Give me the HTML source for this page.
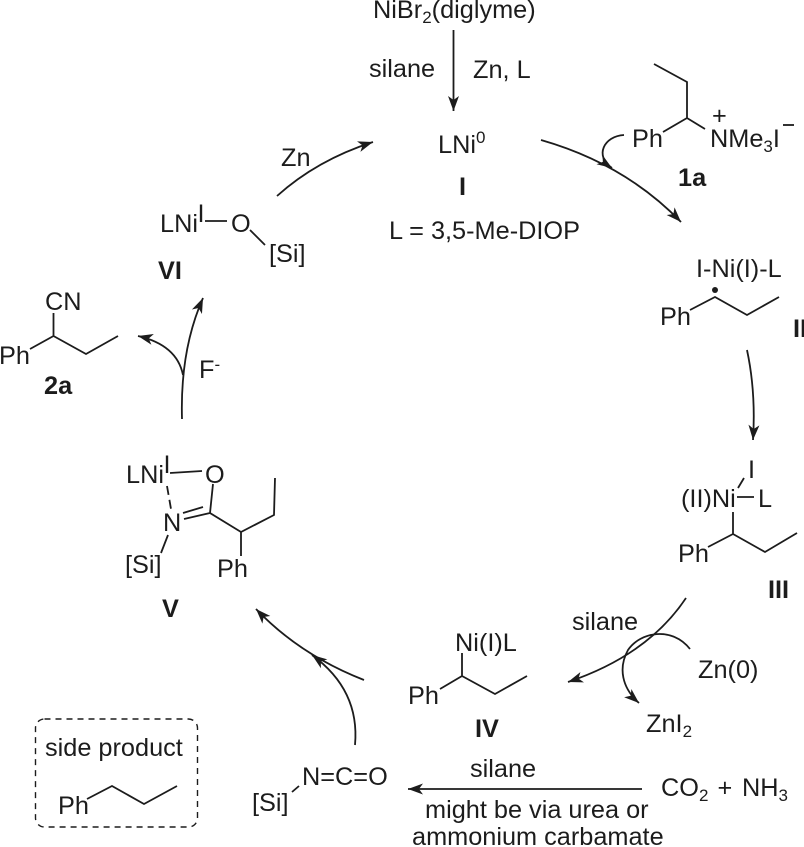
<!DOCTYPE html>
<html>
<head>
<meta charset="utf-8">
<style>
html,body{margin:0;padding:0;background:#fff;width:804px;height:847px;overflow:hidden}
svg{display:block}
text{font-family:"Liberation Sans",sans-serif;font-size:25.3px;fill:#1c1c1c}
.b{font-weight:bold}
.l{fill:none;stroke:#1c1c1c;stroke-width:1.8}
.a{fill:none;stroke:#1c1c1c;stroke-width:1.8;marker-end:url(#h)}
</style>
</head>
<body>
<svg width="804" height="847" viewBox="0 0 804 847" xmlns="http://www.w3.org/2000/svg">
<defs>
<marker id="h" markerUnits="userSpaceOnUse" markerWidth="16" markerHeight="12" viewBox="0 0 16 12" refX="15" refY="6" orient="auto">
<path d="M15,6 L0,0.5 L4,6 L0,11.5 Z" fill="#1c1c1c"/>
</marker>
</defs>

<!-- top -->
<text x="373" y="18">NiBr<tspan font-size="17" dy="5">2</tspan><tspan dy="-5">(diglyme)</tspan></text>
<path class="a" d="M453.5,30 L453.5,111"/>
<text x="369" y="77">silane</text>
<text x="473" y="78">Zn, L</text>
<text x="438" y="153">LNi<tspan font-size="17" dy="-10">0</tspan></text>
<text class="b" x="459" y="195">I</text>
<text x="389" y="239">L = 3,5-Me-DIOP</text>

<!-- I to II -->
<path class="a" d="M541,140 Q625,164 681,222"/>
<path class="a" d="M624,135 C604,136 594,156 612,168"/>

<!-- 1a -->
<text x="632" y="147">Ph</text>
<path class="l" d="M663,132 L687,118 L705,129 M687,118 L687,82 L654,64"/>
<text x="710" y="147">NMe<tspan font-size="17" dy="5">3</tspan><tspan dy="-5">I</tspan></text>
<text x="712" y="124" font-size="21">+</text>
<path class="l" d="M783,125 L794,125"/>
<text class="b" x="678" y="186">1a</text>

<!-- II -->
<text x="696" y="277">I-Ni(I)-L</text>
<circle cx="715" cy="290" r="3" fill="#1c1c1c"/>
<text x="660" y="325">Ph</text>
<path class="l" d="M690,310 L715,297 L747,315 L779,297"/>
<text class="b" x="793" y="337">II</text>
<path class="a" d="M747,350 Q756,392 753,440"/>

<!-- III -->
<text x="748" y="478">I</text>
<path class="l" d="M738,488 L744,478 M737,497 L754,497 M733,512 L733,534 L708,547 M733,534 L765,552 L797,533"/>
<text x="681" y="507">(II)Ni</text>
<text x="758" y="507">L</text>
<text x="678" y="562">Ph</text>
<text class="b" x="768" y="598">III</text>

<!-- III to IV -->
<path class="a" d="M686,598 Q648,655 568,682"/>
<text x="572" y="630">silane</text>
<path class="a" d="M690,649 C672,626 640,632 628,650 C618,668 622,688 639,703"/>
<text x="698" y="678">Zn(0)</text>
<text x="646" y="732">ZnI<tspan font-size="17" dy="5">2</tspan></text>

<!-- IV -->
<text x="455" y="651">Ni(I)L</text>
<path class="l" d="M462,653 L462,676 L440,689 M462,676 L495,694 L527,676"/>
<text x="408" y="704">Ph</text>
<text class="b" x="475" y="737">IV</text>

<!-- IV to V -->
<path class="a" d="M364,680 Q300,655 256,609"/>
<path class="a" d="M355,745 Q360,690 312,655"/>

<!-- isocyanate -->
<text x="302" y="785">N=C=O</text>
<text x="252" y="811">[Si]</text>
<path class="l" d="M292,792 L299,786"/>

<!-- bottom arrow -->
<path class="a" d="M642,789 L408,789"/>
<text x="470" y="777">silane</text>
<text x="661" y="796">CO<tspan font-size="17" dy="5">2</tspan></text>
<text x="717.5" y="796">+</text>
<text x="742" y="796">NH<tspan font-size="17" dy="5">3</tspan></text>
<text x="425" y="818">might be via urea or</text>
<text x="412" y="845">ammonium carbamate</text>

<!-- side product -->
<rect x="35.5" y="719" width="162" height="108" rx="9" ry="9" fill="none" stroke="#1c1c1c" stroke-width="1.4" stroke-dasharray="6 5"/>
<text x="45" y="756">side product</text>
<text x="58" y="814">Ph</text>
<path class="l" d="M87,799 L112,786 L144,804 L177,786"/>

<!-- V -->
<text x="126" y="483">LNi</text>
<text x="163.5" y="473" font-size="17">I</text>
<path class="l" d="M170,473 L202,471"/>
<text x="205" y="483">O</text>
<path class="l" d="M167,486 L171,509" stroke-dasharray="9 5"/>
<text x="163" y="531">N</text>
<path class="l" d="M183,513 L203,507 M184,519 L210,513 M213,484 L210,513 L241,532 L274,515 L275,478 M241,532 L241,556 M168,535 L161,553"/>
<text x="125" y="573">[Si]</text>
<text x="217" y="577">Ph</text>
<text class="b" x="162" y="617">V</text>

<!-- V to VI and 2a -->
<path class="a" d="M182,419 Q180,350 203,298"/>
<path class="a" d="M183,375 Q177,345 138,336"/>
<text x="199" y="378">F<tspan font-size="17" dy="-8">-</tspan></text>

<!-- 2a -->
<text x="45" y="310">CN</text>
<path class="l" d="M53.5,313 L53.5,336 L30,349 M53.5,336 L86,354 L118,336"/>
<text x="-1" y="364">Ph</text>
<text class="b" x="44" y="394">2a</text>

<!-- VI -->
<text x="160" y="232">LNi</text>
<text x="197.5" y="222" font-size="17">I</text>
<path class="l" d="M205,221 L227,221"/>
<text x="231" y="232">O</text>
<path class="l" d="M250,230 L265,245"/>
<text x="269" y="262">[Si]</text>
<text class="b" x="158" y="279">VI</text>
<text x="281" y="166">Zn</text>
<path class="a" d="M277,196 Q317,160 373,142"/>
</svg>
</body>
</html>
